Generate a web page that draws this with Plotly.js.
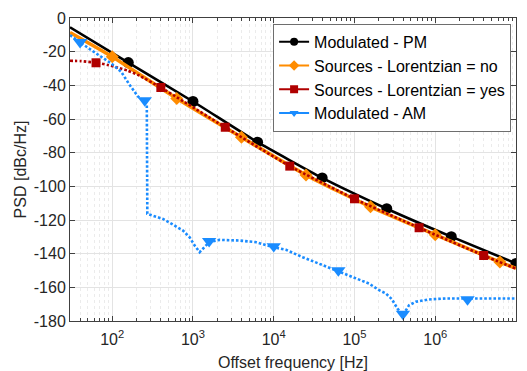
<!DOCTYPE html>
<html>
<head>
<meta charset="utf-8">
<script src="https://cdn.plot.ly/plotly-3.0.1.min.js"></script>
<style>html,body{margin:0;padding:0;background:#fff;}#chart{width:527px;height:371px;}</style>
</head>
<body>
<div id="chart"></div>
<script>
// ---- Data ----
const seriesNames = ['Modulated - PM', 'Sources - Lorentzian = no', 'Sources - Lorentzian = yes', 'Modulated - AM'];

const pmFreq = [30, 158, 1000, 6310, 39800, 251000, 1580000, 10000000];
const pmPsd  = [-5.5, -26.5, -49.6, -73.8, -95.0, -113.3, -129.9, -145.8];
const pmMarkFreq = [158, 1000, 6310, 39800, 251000, 1580000, 10000000];
const pmMarkPsd  = [-26.5, -49.6, -73.8, -95.0, -113.3, -129.9, -145.8];

const noFreq = [30, 100, 630, 3980, 25100, 158000, 1000000, 6310000, 10000000];
const noPsd  = [-8.6, -23.0, -47.8, -70.8, -93.3, -112.2, -128.7, -145.0, -148.7];
const noMarkFreq = [100, 630, 3980, 25100, 158000, 1000000, 6310000];
const noMarkPsd  = [-23.0, -47.8, -70.8, -93.3, -112.2, -128.7, -145.0];

const yesFreq = [30, 41, 63, 88, 118, 156, 208, 400, 2510, 15800, 100000, 631000, 3980000, 10000000];
const yesPsd  = [-25.4, -25.6, -26.6, -27.9, -29.5, -31.3, -33.8, -41.3, -64.9, -88.0, -107.4, -124.6, -141.1, -148.9];
const yesMarkFreq = [63, 400, 2510, 15800, 100000, 631000, 3980000];
const yesMarkPsd  = [-26.6, -41.3, -64.9, -88.0, -107.4, -124.6, -141.1];

const amFreq = [30, 40, 55, 73, 97, 129, 164, 208, 253, 268, 272, 321, 426, 567, 753, 910, 1050, 1210, 1400, 1585, 2140, 3780, 6070, 10000, 14200, 22800, 36600, 63100, 94600, 152000, 202000, 244000, 290000, 340000, 398000, 474000, 573000, 836000, 1340000, 2510000, 4600000, 10000000];
const amPsd  = [-10.2, -14.6, -19.1, -23.0, -27.0, -31.9, -39.7, -46.6, -49.6, -51.5, -116.3, -117.5, -119.4, -122.8, -126.3, -130.3, -135.2, -139.1, -136.2, -133.2, -131.8, -132.2, -133.2, -136.2, -137.7, -142.1, -146.0, -150.4, -153.9, -157.8, -161.7, -163.6, -167.0, -172.6, -176.5, -170.6, -168.6, -167.2, -166.6, -166.6, -166.6, -166.6];
const amMarkFreq = [40, 253, 1585, 10000, 63100, 398000, 2510000];
const amMarkPsd  = [-14.4, -49.0, -132.6, -135.6, -150.0, -175.8, -167.2];

const xTickVals = [100, 1000, 10000, 100000, 1000000, 10000000];
const xTickText = ['10<sup>2</sup>', '10<sup>3</sup>', '10<sup>4</sup>', '10<sup>5</sup>', '10<sup>6</sup>', '10<sup>7</sup>'];
const yTickVals = [0, -20, -40, -60, -80, -100, -120, -140, -160, -180];
const yTickText = ['0', '-20', '-40', '-60', '-80', '-100', '-120', '-140', '-160', '-180'];

// ---- Styles ----
const colors = ['#000000', '#ff8c00', '#b00000', '#1a8cff'];
const symbols = ['circle', 'diamond', 'square', 'triangle-down'];
const msizes = [11, 10, 9, 12.5];
const lineStyles = [
  {width: 2.6, dash: 'solid'},
  {width: 3.6, dash: 'solid'},
  {width: 2.6, dash: '2.6px,2px'},
  {width: 2.6, dash: '2.6px,2px'}
];

const lines = [[pmFreq, pmPsd], [noFreq, noPsd], [yesFreq, yesPsd], [amFreq, amPsd]];
const marks = [[pmMarkFreq, pmMarkPsd], [noMarkFreq, noMarkPsd], [yesMarkFreq, yesMarkPsd], [amMarkFreq, amMarkPsd]];

const traces = [];
for (let i = 0; i < 4; i++) {
  traces.push({
    x: lines[i][0], y: lines[i][1], type: 'scatter', mode: 'lines',
    line: {color: colors[i], width: lineStyles[i].width, dash: lineStyles[i].dash, shape: i === 3 ? 'linear' : 'spline', smoothing: 0.5},
    showlegend: false, hoverinfo: 'skip'
  });
  traces.push({
    x: marks[i][0], y: marks[i][1], type: 'scatter', mode: 'markers',
    marker: {color: colors[i], symbol: symbols[i], size: msizes[i], line: {width: 0}},
    showlegend: false, hoverinfo: 'skip'
  });
}
// legend entries
for (let i = 0; i < 4; i++) {
  traces.push({
    x: [null], y: [null], type: 'scatter', mode: 'lines+markers', name: seriesNames[i],
    line: {color: colors[i], width: 2},
    marker: {color: colors[i], symbol: symbols[i], size: 8, line: {width: 0}},
    showlegend: true
  });
}

const axisCommon = {
  showline: true, linecolor: '#404040', linewidth: 1, mirror: 'ticks',
  ticks: 'inside', ticklen: 5, tickcolor: '#404040', tickwidth: 1,
  showgrid: true, gridcolor: '#e3e3e3', gridwidth: 1, zeroline: false,
  tickfont: {family: 'Liberation Sans, Arial, sans-serif', size: 16, color: '#262626'}
};

const layout = {
  width: 527, height: 371,
  margin: {l: 70, r: 10, t: 16, b: 50},
  paper_bgcolor: '#ffffff', plot_bgcolor: '#ffffff',
  font: {family: 'Liberation Sans, Arial, sans-serif', size: 16, color: '#262626'},
  xaxis: Object.assign({}, axisCommon, {
    type: 'log', range: [Math.log10(30), 7],
    tickmode: 'array', tickvals: xTickVals, ticktext: xTickText,
    ticklabelstandoff: 4,
    minor: {dtick: 'D1', ticks: 'inside', ticklen: 3, tickcolor: '#404040', showgrid: true, gridcolor: '#ebebeb', griddash: 'dot', gridwidth: 1},
    title: {text: 'Offset frequency [Hz]', font: {size: 16, color: '#262626'}, standoff: 18},
    automargin: false
  }),
  yaxis: Object.assign({}, axisCommon, {
    range: [-180, 0],
    tickmode: 'array', tickvals: yTickVals, ticktext: yTickText,
    title: {text: 'PSD [dBc/Hz]', font: {size: 16, color: '#262626'}, standoff: 3},
    automargin: true
  }),
  legend: {
    x: 0.989, y: 0.981, xanchor: 'right', yanchor: 'top',
    bgcolor: '#ffffff', bordercolor: '#6e6e6e', borderwidth: 1,
    font: {size: 16, color: '#000000'}, itemwidth: 30, tracegroupgap: 0
  },
  showlegend: true
};

Plotly.newPlot('chart', traces, layout, {staticPlot: true, displayModeBar: false});
</script>
</body>
</html>
